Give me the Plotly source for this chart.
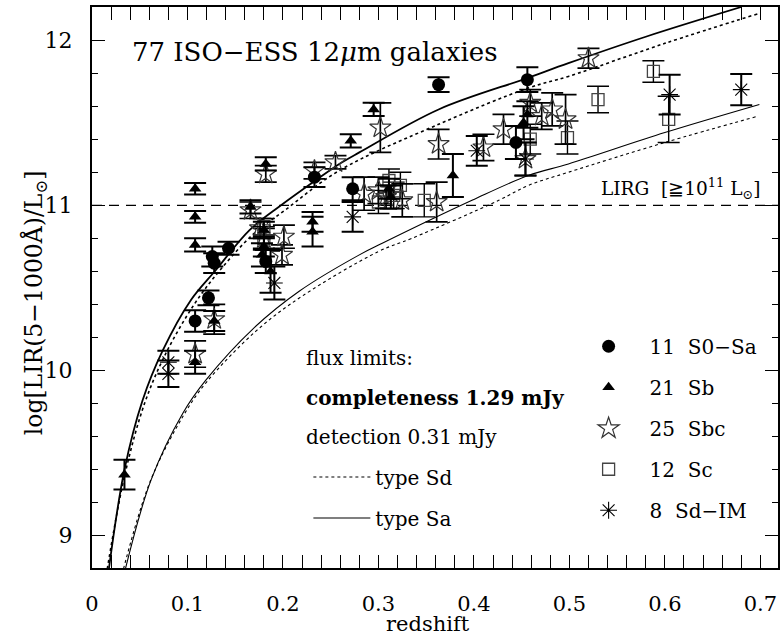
import plotly.graph_objects as go

# ---------------- data ----------------
# 11 S0-Sa (filled circles)
s0sa_z = [0.108, 0.122, 0.126, 0.128, 0.143, 0.182, 0.233, 0.273, 0.363, 0.444, 0.456]
s0sa_l = [10.30, 10.44, 10.69, 10.65, 10.74, 10.66, 11.17, 11.10, 11.73, 11.38, 11.76]
s0sa_e = [0.065, 0.045, 0.06, 0.06, 0.04, 0.07, 0.06, 0.07, 0.045, 0.10, 0.075]

# 21 Sb (filled triangles)
sb_z = [0.034, 0.108, 0.108, 0.108, 0.108, 0.128, 0.166, 0.180, 0.180, 0.182, 0.187,
        0.231, 0.231, 0.271, 0.295, 0.311, 0.313, 0.378, 0.456, 0.452, 0.178]
sb_l = [9.37, 10.05, 10.76, 10.93, 11.10, 10.30, 10.99, 10.85, 10.75, 11.25, 10.60,
        10.90, 10.84, 11.39, 11.58, 11.10, 11.05, 11.18, 11.55, 11.50, 10.70]
sb_e = [0.09, 0.07, 0.04, 0.035, 0.035, 0.06, 0.04, 0.05, 0.06, 0.04, 0.13,
        0.06, 0.09, 0.04, 0.04, 0.06, 0.07, 0.13, 0.08, 0.10, 0.07]

# 25 Sbc (open stars)
sbc_z = [0.108, 0.128, 0.166, 0.182, 0.180, 0.201, 0.199, 0.255, 0.285, 0.302, 0.325,
         0.363, 0.361, 0.431, 0.454, 0.459, 0.471, 0.482, 0.496, 0.520, 0.233,
         0.410, 0.308, 0.176, 0.300]
sbc_l = [10.10, 10.31, 10.97, 11.19, 10.80, 10.81, 10.70, 11.26, 11.07, 11.47, 11.03,
         11.37, 11.02, 11.46, 11.28, 11.62, 11.54, 11.58, 11.52, 11.89, 11.21,
         11.35, 11.05, 10.86, 11.09]
sbc_e = [0.08, 0.09, 0.05, 0.05, 0.07, 0.07, 0.06, 0.04, 0.10, 0.15, 0.10,
         0.09, 0.12, 0.09, 0.10, 0.08, 0.08, 0.10, 0.15, 0.06, 0.05,
         0.08, 0.07, 0.06, 0.08]

# 12 Sc (open squares)
sc_z = [0.180, 0.180, 0.300, 0.311, 0.316, 0.323, 0.348, 0.459, 0.498, 0.530, 0.588, 0.604]
sc_l = [10.87, 10.80, 11.02, 11.15, 11.06, 11.12, 11.03, 11.40, 11.41, 11.64, 11.81, 11.52]
sc_e = [0.05, 0.06, 0.07, 0.07, 0.08, 0.08, 0.10, 0.09, 0.10, 0.08, 0.065, 0.14]

# 8 Sd-IM (asterisks)
sdim_z = [0.080, 0.080, 0.191, 0.273, 0.403, 0.454, 0.605, 0.680]
sdim_l = [10.05, 9.98, 10.53, 10.93, 11.33, 11.28, 11.67, 11.70]
sdim_e = [0.07, 0.08, 0.10, 0.09, 0.09, 0.10, 0.12, 0.095]

# completeness limit (1.29 mJy) curves
comp_sa_z = [0.0177, 0.034, 0.053, 0.074, 0.104, 0.130, 0.165, 0.198, 0.234, 0.259,
             0.280, 0.363, 0.456, 0.499, 0.580, 0.680]
comp_sa_l = [8.80, 9.40, 9.82, 10.12, 10.43, 10.61, 10.85, 11.00, 11.15, 11.25,
             11.32, 11.58, 11.77, 11.86, 12.02, 12.20]
comp_sd_z = [0.016, 0.034, 0.055, 0.077, 0.107, 0.133, 0.168, 0.202, 0.259, 0.363,
             0.457, 0.499, 0.600, 0.698]
comp_sd_l = [8.80, 9.36, 9.80, 10.10, 10.40, 10.60, 10.82, 10.97, 11.21, 11.49,
             11.71, 11.78, 11.98, 12.16]

# detection limit (0.31 mJy) curves
det_sa_z = [0.035, 0.062, 0.095, 0.119, 0.170, 0.217, 0.280, 0.304, 0.398, 0.457,
            0.499, 0.600, 0.699]
det_sa_l = [8.80, 9.34, 9.74, 9.94, 10.26, 10.48, 10.70, 10.77, 11.03, 11.18,
            11.25, 11.44, 11.61]
det_sd_z = [0.033, 0.061, 0.096, 0.120, 0.172, 0.220, 0.300, 0.335, 0.426, 0.457,
            0.499, 0.600, 0.698]
det_sd_l = [8.80, 9.33, 9.73, 9.93, 10.24, 10.45, 10.72, 10.80, 11.03, 11.12,
            11.20, 11.38, 11.54]

lirg_level = 11.0
x_range = [0, 0.7185]
y_range = [8.805, 12.2]
x_ticks = [0, 0.1, 0.2, 0.3, 0.4, 0.5, 0.6, 0.7]
x_ticktext = ["0", "0.1", "0.2", "0.3", "0.4", "0.5", "0.6", "0.7"]
y_ticks = [9, 10, 11, 12]
y_ticktext = ["9", "10", "11", "12"]

FONT = "DejaVu Serif"

fig = go.Figure()

# limit curves
fig.add_trace(go.Scatter(x=comp_sd_z, y=comp_sd_l, mode="lines", showlegend=False,
                         line=dict(color="black", width=1.6, dash="dot", shape="spline")))
fig.add_trace(go.Scatter(x=comp_sa_z, y=comp_sa_l, mode="lines", showlegend=False,
                         line=dict(color="black", width=1.8, shape="spline")))
fig.add_trace(go.Scatter(x=det_sd_z, y=det_sd_l, mode="lines", name="type Sd",
                         legend="legend2", legendgroup="sd", legendrank=1,
                         line=dict(color="black", width=1.1, dash="dot", shape="spline")))
fig.add_trace(go.Scatter(x=det_sa_z, y=det_sa_l, mode="lines", name="type Sa",
                         legend="legend2", legendgroup="sa", legendrank=2,
                         line=dict(color="black", width=1.1, shape="spline")))

# LIRG threshold
fig.add_trace(go.Scatter(x=x_range, y=[lirg_level, lirg_level], mode="lines", showlegend=False,
                         line=dict(color="black", width=1.3, dash="10px,7px")))


def err(e, th):
    return dict(type="data", array=e, visible=True, color="black", thickness=th, width=11)


fig.add_trace(go.Scatter(x=sc_z, y=sc_l, mode="markers", name="12  Sc", legendgroup="g4",
                         legendrank=4, error_y=err(sc_e, 1.4),
                         marker=dict(symbol="square-open", size=12, color="#444",
                                     line=dict(width=1.3, color="#444"))))
fig.add_trace(go.Scatter(x=sbc_z, y=sbc_l, mode="markers", name="25  Sbc", legendgroup="g3",
                         legendrank=3, error_y=err(sbc_e, 1.7),
                         marker=dict(symbol="star-open", size=16, color="#333",
                                     line=dict(width=1.2, color="#333"))))
fig.add_trace(go.Scatter(x=sdim_z, y=sdim_l, mode="markers", name="8  Sd\u2212IM", legendgroup="g5",
                         legendrank=5, error_y=err(sdim_e, 2),
                         marker=dict(symbol="asterisk-open", size=14, color="black",
                                     line=dict(width=1.1, color="black"))))
fig.add_trace(go.Scatter(x=sb_z, y=sb_l, mode="markers", name="21  Sb", legendgroup="g2",
                         legendrank=2, error_y=err(sb_e, 2),
                         marker=dict(symbol="triangle-up", size=11, color="black")))
fig.add_trace(go.Scatter(x=s0sa_z, y=s0sa_l, mode="markers", name="11  S0\u2212Sa", legendgroup="g1",
                         legendrank=1, error_y=err(s0sa_e, 2),
                         marker=dict(symbol="circle", size=13, color="black")))

# empty trace that carries the label-only y axis
fig.add_trace(go.Scatter(x=[], y=[], yaxis="y2", showlegend=False, hoverinfo="skip"))

axis_common = dict(showline=True, linewidth=1.5, linecolor="black", mirror="allticks",
                   ticks="inside", tickwidth=1.2, tickcolor="black", showgrid=False,
                   zeroline=False, tickfont=dict(family=FONT, size=21, color="black"))

fig.update_layout(
    width=782, height=638,
    margin=dict(l=92, r=2, t=7, b=70),
    paper_bgcolor="white", plot_bgcolor="white",
    font=dict(family=FONT, color="black"),
    xaxis=dict(range=x_range, tickvals=x_ticks, ticktext=x_ticktext, ticklen=13,
               ticklabelstandoff=16,
               minor=dict(dtick=0.02, tick0=0, ticklen=6, ticks="inside", tickwidth=1,
                          tickcolor="black"),
               **axis_common),
    yaxis=dict(range=y_range, tickvals=y_ticks, ticklen=13, showticklabels=False,
               minor=dict(dtick=0.2, tick0=9, ticklen=6, ticks="inside", tickwidth=1,
                          tickcolor="black"),
               **axis_common),
    yaxis2=dict(range=y_range, overlaying="y", side="left", anchor="x",
                tickvals=y_ticks, ticktext=y_ticktext, ticks="outside", ticklen=14,
                tickcolor="rgba(0,0,0,0)", showgrid=False, zeroline=False, showline=False,
                tickfont=dict(family=FONT, size=22, color="black")),
    legend=dict(x=0.6933, xanchor="left", y=0.43, yanchor="top", traceorder="grouped",
                tracegroupgap=12, bgcolor="rgba(0,0,0,0)", itemwidth=72,
                font=dict(family=FONT, size=20, color="black")),
    legend2=dict(x=0.3154, xanchor="left", y=0.197, yanchor="top", traceorder="grouped",
                 tracegroupgap=12, bgcolor="rgba(0,0,0,0)", itemwidth=57,
                 font=dict(family=FONT, size=20, color="black")),
    annotations=[
        dict(text="77 ISO\u2212ESS 12<i>\u03bc</i>m galaxies", xref="paper", yref="paper",
             x=0.0547, y=0.919, xanchor="left", yanchor="middle", showarrow=False,
             font=dict(family=FONT, size=26)),
        dict(text="LIRG  [\u226710<sup>11</sup> L<sub>\u2299</sub>]", xref="paper", yref="paper",
             x=0.978, y=0.677, xanchor="right", yanchor="middle", showarrow=False,
             font=dict(family=FONT, size=18.5)),
        dict(text="flux limits:", xref="paper", yref="paper", x=0.3096, y=0.374,
             xanchor="left", yanchor="middle", showarrow=False, font=dict(family=FONT, size=20)),
        dict(text="<b>completeness 1.29 mJy</b>", xref="paper", yref="paper", x=0.3096, y=0.3036,
             xanchor="left", yanchor="middle", showarrow=False, font=dict(family=FONT, size=20)),
        dict(text="detection 0.31 mJy", xref="paper", yref="paper", x=0.3096, y=0.234,
             xanchor="left", yanchor="middle", showarrow=False, font=dict(family=FONT, size=20)),
        dict(text="log[LIR(5\u22121000\u00c5)/L<sub>\u2299</sub>]", xref="paper", yref="paper",
             x=-0.083, y=0.472, xanchor="center", yanchor="middle", textangle=-90,
             showarrow=False, font=dict(family=FONT, size=23.5)),
        dict(text="redshift", xref="paper", yref="paper", x=0.49, y=-0.1248,
             xanchor="center", yanchor="bottom", showarrow=False,
             font=dict(family=FONT, size=21)),
    ],
)

fig.write_html("out.html")
